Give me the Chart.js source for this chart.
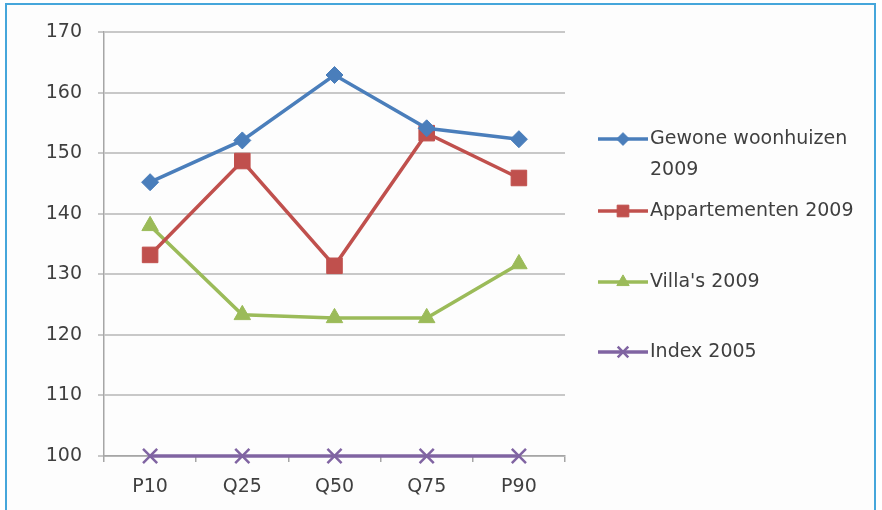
<!DOCTYPE html>
<html>
<head>
<meta charset="utf-8">
<script src="https://cdn.jsdelivr.net/npm/chart.js@4"></script>
<style>
  html, body { margin: 0; padding: 0; background: #ffffff; }
  canvas { display: block; }
</style>
</head>
<body>
<canvas id="c" width="882" height="510"></canvas>
<script>
// Price index per percentile, 2005 = 100
const categories = ['P10', 'Q25', 'Q50', 'Q75', 'P90'];
const gewoneWoonhuizen2009 = [145.2, 152.1, 162.9, 154.1, 152.3];
const appartementen2009 = [133.2, 148.7, 131.4, 153.3, 145.9];
const villas2009 = [138.0, 123.3, 122.8, 122.8, 131.7];
const index2005 = [100, 100, 100, 100, 100];
const yTicks = [100, 110, 120, 130, 140, 150, 160, 170];

const FONT = '"DejaVu Sans", sans-serif';
const TEXT = '#3f3f3f';

const series = [
  { lines: ['Gewone woonhuizen', '2009'], data: gewoneWoonhuizen2009, color: '#4a7ebb', style: 'rectRot', radius: 8.5, bw: 1 },
  { lines: ['Appartementen 2009'], data: appartementen2009, color: '#c0504d', style: 'rect', radius: 11, bw: 1 },
  { lines: ["Villa's 2009"], data: villas2009, color: '#9bbb59', style: 'triangle', radius: 9.5, bw: 1 },
  { lines: ['Index 2005'], data: index2005, color: '#8064a2', style: 'crossRot', radius: 10, bw: 2.5 }
];

const datasets = series.map(s => ({
  label: s.lines.join(' '),
  legendLines: s.lines,
  data: s.data,
  borderColor: s.color,
  backgroundColor: s.color,
  borderWidth: 3.5,
  pointStyle: s.style,
  pointRadius: s.radius,
  pointBorderWidth: s.bw,
  pointBackgroundColor: s.color,
  pointBorderColor: s.color,
  tension: 0,
  clip: false
}));

// Light blue frame around the figure
const framePlugin = {
  id: 'frame',
  beforeDraw(chart) {
    const ctx = chart.ctx;
    ctx.save();
    ctx.fillStyle = '#fdfdfd';
    ctx.fillRect(7, 5, 867, 510);
    ctx.strokeStyle = '#45a6db';
    ctx.lineWidth = 2;
    ctx.strokeRect(6, 4, 869, 520);
    ctx.restore();
  }
};

// Legend on the right, first entry wrapped over two lines
const sideLegend = {
  id: 'sideLegend',
  afterDraw(chart) {
    const ctx = chart.ctx;
    const x0 = 598, x1 = 648, tx = 650;
    const rows = [139, 211, 282, 352];
    ctx.save();
    ctx.font = '19px ' + FONT;
    ctx.textBaseline = 'middle';
    chart.data.datasets.forEach((ds, i) => {
      const y = rows[i];
      ctx.strokeStyle = ds.borderColor;
      ctx.fillStyle = ds.backgroundColor;
      ctx.lineWidth = 3.5;
      ctx.beginPath(); ctx.moveTo(x0, y); ctx.lineTo(x1, y); ctx.stroke();
      ctx.lineWidth = ds.pointBorderWidth;
      Chart.helpers.drawPoint(ctx, {
        pointStyle: ds.pointStyle, radius: ds.pointRadius * 0.75, borderWidth: ds.pointBorderWidth, rotation: 0
      }, (x0 + x1) / 2, y);
      ctx.fillStyle = TEXT;
      ds.legendLines.forEach((t, k) => ctx.fillText(t, tx, y + k * 31));
    });
    ctx.restore();
  }
};

new Chart(document.getElementById('c'), {
  type: 'line',
  data: { labels: categories, datasets },
  options: {
    responsive: false,
    animation: false,
    layout: { padding: { left: 0, right: 317, top: 32, bottom: 0 } },
    plugins: { legend: { display: false }, tooltip: { enabled: false } },
    scales: {
      x: {
        offset: true,
        grid: { display: true, drawOnChartArea: false, drawTicks: true, tickLength: 6, offset: true, color: '#a6a6a6', lineWidth: 1.5 },
        border: { display: true, color: '#a6a6a6', width: 1.5 },
        ticks: { color: TEXT, font: { family: FONT, size: 19 }, padding: 14 },
        afterFit(scale) { scale.height = 54; }
      },
      y: {
        min: 100, max: 170,
        afterBuildTicks(scale) { scale.ticks = yTicks.map(v => ({ value: v })); },
        grid: { color: '#c8c8c8', lineWidth: 2, drawTicks: true, tickLength: 6 },
        border: { display: true, color: '#a6a6a6', width: 1.5 },
        ticks: { color: TEXT, font: { family: FONT, size: 19 }, padding: 16 },
        afterFit(scale) { scale.width = 104; }
      }
    }
  },
  plugins: [framePlugin, sideLegend]
});
</script>
</body>
</html>
